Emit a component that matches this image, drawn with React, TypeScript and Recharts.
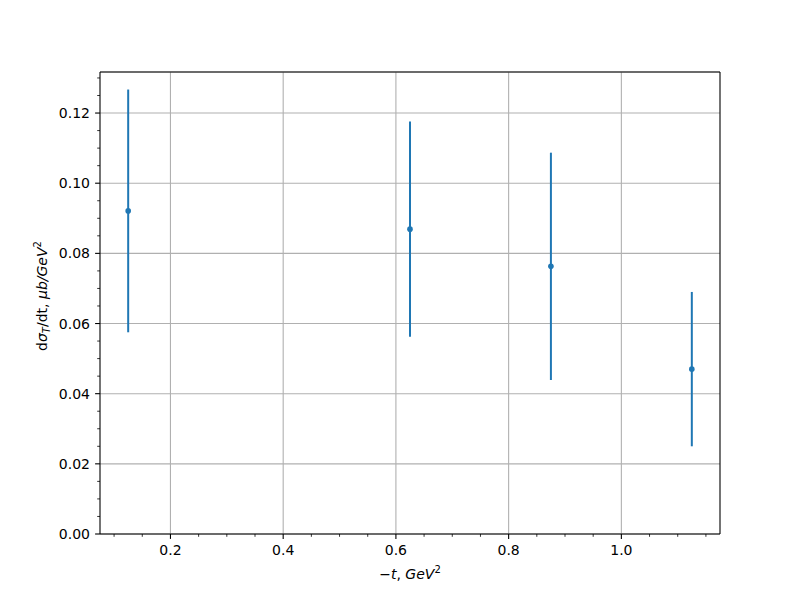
import React from "react";
import {
  ScatterChart,
  Scatter,
  XAxis,
  YAxis,
  CartesianGrid,
  ErrorBar,
  ReferenceLine,
} from "recharts";

// -t values (GeV^2), cross sections and their symmetric errors
const tValues = [0.125, 0.625, 0.875, 1.125];
const dsigma = [0.0921, 0.0869, 0.0763, 0.047];
const dsigmaErr = [0.0346, 0.0307, 0.0324, 0.022];

const xMajorTicks = [0.2, 0.4, 0.6, 0.8, 1.0];
const xMinorTicks = [
  0.1, 0.15, 0.25, 0.3, 0.35, 0.45, 0.5, 0.55, 0.65, 0.7, 0.75, 0.85, 0.9,
  0.95, 1.05, 1.1, 1.15,
];
const yMajorTicks = [0, 0.02, 0.04, 0.06, 0.08, 0.1, 0.12];
const yMinorTicks = [
  0.005, 0.01, 0.015, 0.025, 0.03, 0.035, 0.045, 0.05, 0.055, 0.065, 0.07,
  0.075, 0.085, 0.09, 0.095, 0.105, 0.11, 0.115, 0.125, 0.13,
];

const X_DOMAIN: [number, number] = [0.075, 1.175];
const Y_DOMAIN: [number, number] = [0, 0.1317];

const BLUE = "#1f77b4";
const GRID = "#b0b0b0";
const FONT = "DejaVu Sans, sans-serif";

const data = tValues.map((t, i) => ({ x: t, y: dsigma[i], err: dsigmaErr[i] }));

const isMajor = (v: number, majors: number[]) =>
  majors.some((m) => Math.abs(m - v) < 1e-9);

function XTick(props: any) {
  const { x, y, payload } = props;
  const major = isMajor(payload.value, xMajorTicks);
  return (
    <g>
      <line
        x1={x}
        x2={x}
        y1={y}
        y2={y + (major ? 4.9 : 2.8)}
        stroke="#000"
        strokeWidth={major ? 1.1 : 0.8}
      />
      {major && (
        <text
          x={x}
          y={y + 20.5}
          textAnchor="middle"
          fontSize={14}
          fontFamily={FONT}
          fill="#000"
        >
          {payload.value.toFixed(1)}
        </text>
      )}
    </g>
  );
}

function YTick(props: any) {
  const { x, y, payload } = props;
  const major = isMajor(payload.value, yMajorTicks);
  return (
    <g>
      <line
        x1={x}
        x2={x - (major ? 4.9 : 2.8)}
        y1={y}
        y2={y}
        stroke="#000"
        strokeWidth={major ? 1.1 : 0.8}
      />
      {major && (
        <text
          x={x - 10}
          y={y}
          dy="0.36em"
          textAnchor="end"
          fontSize={14}
          fontFamily={FONT}
          fill="#000"
        >
          {payload.value.toFixed(2)}
        </text>
      )}
    </g>
  );
}

function Dot(props: any) {
  return <circle cx={props.cx} cy={props.cy} r={2.8} fill={BLUE} />;
}

export default function App() {
  return (
    <div style={{ position: "absolute", left: 0, top: 0, width: 800, height: 600, background: "#fff" }}>
      <ScatterChart
        width={800}
        height={600}
        margin={{ top: 72, right: 80, bottom: 0, left: 0 }}
      >
        <CartesianGrid
          yAxisId="gridy"
          vertical={false}
          stroke={GRID}
          strokeWidth={1.1}
        />
        <XAxis
          type="number"
          dataKey="x"
          domain={X_DOMAIN}
          allowDataOverflow
          ticks={[...xMajorTicks, ...xMinorTicks].sort((a, b) => a - b)}
          interval={0}
          height={66}
          tickSize={0}
          tickMargin={0}
          tickLine={false}
          tick={<XTick />}
          axisLine={{ stroke: "#000", strokeWidth: 1.1 }}
        />
        <YAxis
          type="number"
          dataKey="y"
          domain={Y_DOMAIN}
          allowDataOverflow
          ticks={[...yMajorTicks, ...yMinorTicks].sort((a, b) => a - b)}
          interval={0}
          width={100}
          tickSize={0}
          tickMargin={0}
          tickLine={false}
          tick={<YTick />}
          axisLine={{ stroke: "#000", strokeWidth: 1.1 }}
        />
        <YAxis
          yAxisId="gridy"
          type="number"
          domain={Y_DOMAIN}
          allowDataOverflow
          ticks={yMajorTicks}
          interval={0}
          hide
        />
        {xMajorTicks.map((v) => (
          <ReferenceLine key={`gx-${v}`} x={v} stroke={GRID} strokeWidth={1.1} />
        ))}
        <ReferenceLine y={Y_DOMAIN[1]} stroke="#000" strokeWidth={1.1} />
        <ReferenceLine x={X_DOMAIN[1]} stroke="#000" strokeWidth={1.1} />
        <Scatter data={data} shape={<Dot />} isAnimationActive={false}>
          <ErrorBar
            dataKey="err"
            direction="y"
            width={0}
            stroke={BLUE}
            strokeWidth={2}
            isAnimationActive={false}
          />
        </Scatter>
        <text
          x={410}
          y={579}
          textAnchor="middle"
          fontSize={14}
          fontFamily={FONT}
          fill="#000"
        >
          −<tspan fontStyle="italic">t</tspan>,{" "}
          <tspan fontStyle="italic">GeV</tspan>
          <tspan fontSize={10} dy={-6}>2</tspan>
        </text>
        <text
          transform="translate(47, 296) rotate(-90)"
          x={0}
          y={0}
          textAnchor="middle"
          fontSize={14}
          fontFamily={FONT}
          fill="#000"
        >
          d<tspan fontStyle="italic">σ</tspan>
          <tspan fontStyle="italic" fontSize={10} dy={3}>T</tspan>
          <tspan dy={-3}>/dt, </tspan>
          <tspan fontStyle="italic">μb</tspan>
          <tspan fontStyle="italic">/GeV</tspan>
          <tspan fontSize={10} dy={-6}>2</tspan>
        </text>
      </ScatterChart>
    </div>
  );
}
